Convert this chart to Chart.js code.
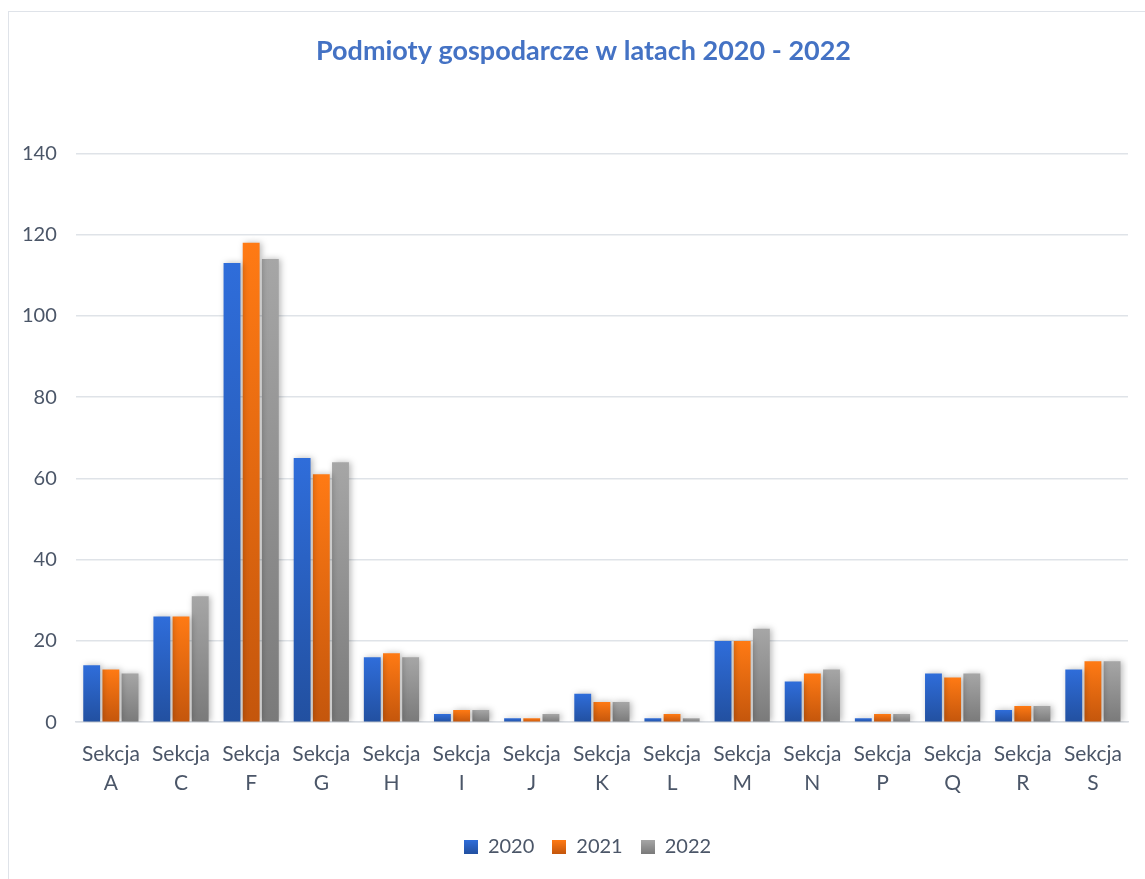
<!DOCTYPE html>
<html><head><meta charset="utf-8">
<script src="https://cdn.jsdelivr.net/npm/chart.js@4.4.0/dist/chart.umd.min.js"></script>
<style>
html,body{margin:0;padding:0;background:#fff;overflow:hidden;width:1145px;height:879px;}
#frame{position:absolute;left:8px;top:11px;width:1200px;height:950px;border:1.5px solid #dfe3e9;box-sizing:border-box;}
#c{position:absolute;left:0;top:0;}
</style></head><body>
<div id="frame"></div>
<canvas id="c" width="1145" height="879"></canvas>
<script>
const categories = [["Sekcja","A"],["Sekcja","C"],["Sekcja","F"],["Sekcja","G"],["Sekcja","H"],["Sekcja","I"],["Sekcja","J"],["Sekcja","K"],["Sekcja","L"],["Sekcja","M"],["Sekcja","N"],["Sekcja","P"],["Sekcja","Q"],["Sekcja","R"],["Sekcja","S"]];
const seriesNames = ["2020","2021","2022"];
const values2020 = [14,26,113,65,16,2,1,7,1,20,10,1,12,3,13];
const values2021 = [13,26,118,61,17,3,1,5,2,20,12,2,11,4,15];
const values2022 = [12,31,114,64,16,3,2,5,1,23,13,2,12,4,15];
const yTicks = [0,20,40,60,80,100,120,140];

const colorStops = [["#2F6DDA","#2250A0"],["#FF7A14","#C4560C"],["#A6A6A6","#7A7A7A"]];
const textColor = '#4B5668';

function grad(idx){
  return function(ctx){
    const chart = ctx.chart;
    if(!chart.chartArea || ctx.type!=='data') return colorStops[idx][0];
    const y = chart.scales.y;
    const top = y.getPixelForValue(ctx.raw);
    const base = y.getPixelForValue(0);
    if(!isFinite(top) || top===base) return colorStops[idx][0];
    const g = chart.ctx.createLinearGradient(0,top,0,base);
    g.addColorStop(0,colorStops[idx][0]);
    g.addColorStop(1,colorStops[idx][1]);
    return g;
  };
}
function legendBox(idx){
  const c=document.createElement('canvas');c.width=14;c.height=14;
  const x=c.getContext('2d');const g=x.createLinearGradient(0,0,0,14);
  g.addColorStop(0,colorStops[idx][0]);g.addColorStop(1,colorStops[idx][1]);
  x.fillStyle=g;x.fillRect(0,0,14,14);return c;
}

const shadowPlugin = {
  id:'shadow',
  beforeDatasetsDraw(chart){const c=chart.ctx;c.save();c.shadowColor='rgba(0,0,0,0.28)';c.shadowBlur=6;c.shadowOffsetX=2;c.shadowOffsetY=0;},
  afterDatasetsDraw(chart){chart.ctx.restore();}
};
const shiftPlugin = {
  id:'shift',
  afterLayout(chart){
    if(chart.titleBlock){chart.titleBlock.left+=18;chart.titleBlock.right+=18;}
    if(chart.legend){chart.legend.left+=22;chart.legend.right+=22;}
  }
};

const dataSets = [values2020,values2021,values2022].map((v,i)=>({
  label:seriesNames[i], data:v, backgroundColor:grad(i), borderWidth:0,
  categoryPercentage:0.82, barPercentage:0.88, pointStyle:legendBox(i)
}));

new Chart(document.getElementById('c'),{
  type:'bar',
  data:{labels:categories,datasets:dataSets},
  plugins:[shadowPlugin,shiftPlugin],
  options:{
    responsive:false, animation:false,
    layout:{padding:{left:3,right:17,top:10,bottom:12}},
    plugins:{
      title:{display:true,text:'Podmioty gospodarcze w latach 2020 - 2022',color:'#4472C4',
        font:{family:'Lato, "Open Sans", sans-serif',size:27,weight:'bold'},padding:{top:25,bottom:86}},
      legend:{position:'bottom',labels:{usePointStyle:true,color:textColor,font:{family:'Lato, sans-serif',size:20},padding:18,boxWidth:14,boxHeight:14}},
      tooltip:{enabled:false}
    },
    scales:{
      x:{grid:{display:false},border:{color:'#d9dde3',width:1.5},
        afterFit(ax){ax.height += 12;},
        ticks:{color:textColor,font:{family:'Lato, sans-serif',size:21,lineHeight:1.4},maxRotation:0,autoSkip:false,padding:9}},
      y:{min:0,max:140,afterBuildTicks(ax){ax.ticks=yTicks.map(v=>({value:v}));},
        grid:{color:'#dfe3e8',lineWidth:1.5,drawTicks:false},border:{display:false},
        ticks:{color:textColor,font:{family:'Lato, sans-serif',size:20},padding:19}}
    }
  }
});
</script></body></html>
